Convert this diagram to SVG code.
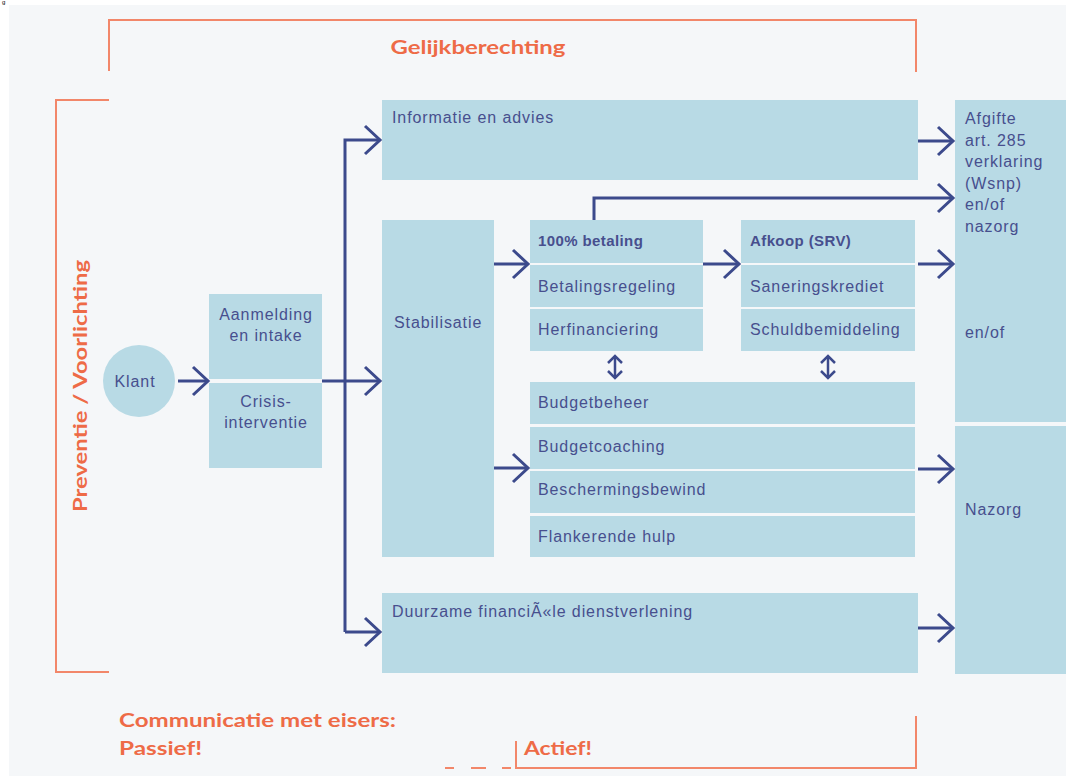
<svg xmlns="http://www.w3.org/2000/svg" width="1066" height="776" viewBox="0 0 1066 776">
<defs>
<style>
.bg{fill:#f5f7f9}
.box{fill:#b8dae5}
.t{font-family:"Liberation Sans",Arial,sans-serif;font-size:16px;fill:#474f8e;letter-spacing:0.9px}
.tb{font-family:"Liberation Sans",Arial,sans-serif;font-size:15px;font-weight:bold;fill:#474f8e;letter-spacing:0.4px}
.o{font-family:Lato,"Liberation Sans",sans-serif;font-weight:bold;font-size:19px;fill:#ee6b47}
.br{fill:none;stroke:#f2876a;stroke-width:2}
.c{fill:none;stroke:#3c4a8c;stroke-width:3}
.c2{fill:none;stroke:#3c4a8c;stroke-width:2.5}
</style>
<marker id="ah" markerUnits="userSpaceOnUse" viewBox="0 0 20 32" markerWidth="20" markerHeight="32" refX="17" refY="16" orient="auto">
<path d="M2,2 L17,16 L2,30" fill="none" stroke="#3c4a8c" stroke-width="3"/>
</marker>
<marker id="ahs" markerUnits="userSpaceOnUse" viewBox="0 0 12 18" markerWidth="12" markerHeight="18" refX="9" refY="9" orient="auto-start-reverse">
<path d="M2,2 L9,9 L2,16" fill="none" stroke="#3c4a8c" stroke-width="2.5"/>
</marker>
</defs>
<rect x="0" y="0" width="1066" height="776" fill="#ffffff"/>
<rect class="bg" x="9" y="5" width="1057" height="771"/>
<text x="2" y="4" font-family="Liberation Sans, sans-serif" font-size="6" fill="#000">g</text>

<g id="brackets">
<path class="br" d="M109,71 V20 H916 V72"/>
<path class="br" d="M109,100 H56 V672 H109"/>
<path class="br" d="M916,716 V768 H516 V741"/>
<path class="br" d="M445,768 H454 M471,768 H486 M502,768 H511"/>
</g>
<g id="labels">
<text class="o" x="478" y="54" text-anchor="middle" textLength="175" lengthAdjust="spacingAndGlyphs">Gelijkberechting</text>
<text class="o" transform="translate(87,386) rotate(-90)" text-anchor="middle" textLength="252" lengthAdjust="spacingAndGlyphs">Preventie / Voorlichting</text>
<text class="o" x="119" y="727" textLength="277" lengthAdjust="spacingAndGlyphs">Communicatie met eisers:</text>
<text class="o" x="119" y="755" textLength="83" lengthAdjust="spacingAndGlyphs">Passief!</text>
<text class="o" x="524" y="755" textLength="68" lengthAdjust="spacingAndGlyphs">Actief!</text>
</g>

<g id="klant">
<circle class="box" cx="139" cy="381" r="36"/>
<text class="t" x="135" y="387" text-anchor="middle">Klant</text>
</g>
<g id="aanmelding">
<rect class="box" x="209" y="294" width="113" height="85"/>
<text class="t" x="266" y="320" text-anchor="middle">Aanmelding</text>
<text class="t" x="266" y="341" text-anchor="middle">en intake</text>
</g>
<g id="crisis">
<rect class="box" x="209" y="383" width="113" height="85"/>
<text class="t" x="266" y="407" text-anchor="middle">Crisis-</text>
<text class="t" x="266" y="428" text-anchor="middle">interventie</text>
</g>
<g id="informatie">
<rect class="box" x="382" y="100" width="536" height="80"/>
<text class="t" x="392" y="123">Informatie en advies</text>
</g>
<g id="stabilisatie">
<rect class="box" x="382" y="220" width="112" height="337"/>
<text class="t" x="394" y="328">Stabilisatie</text>
</g>
<g id="betaling">
<rect class="box" x="530" y="220" width="173" height="43"/>
<text class="tb" x="538" y="246">100% betaling</text>
<rect class="box" x="530" y="265" width="173" height="42"/>
<text class="t" x="538" y="292">Betalingsregeling</text>
<rect class="box" x="530" y="309" width="173" height="42"/>
<text class="t" x="538" y="335">Herfinanciering</text>
</g>
<g id="afkoop">
<rect class="box" x="741" y="220" width="174" height="43"/>
<text class="tb" x="750" y="246">Afkoop (SRV)</text>
<rect class="box" x="741" y="265" width="174" height="42"/>
<text class="t" x="750" y="292">Saneringskrediet</text>
<rect class="box" x="741" y="309" width="174" height="42"/>
<text class="t" x="750" y="335">Schuldbemiddeling</text>
</g>
<g id="budget">
<rect class="box" x="530" y="382" width="385" height="42"/>
<text class="t" x="538" y="408">Budgetbeheer</text>
<rect class="box" x="530" y="427" width="385" height="42"/>
<text class="t" x="538" y="452">Budgetcoaching</text>
<rect class="box" x="530" y="471" width="385" height="42"/>
<text class="t" x="538" y="495">Beschermingsbewind</text>
<rect class="box" x="530" y="516" width="385" height="41"/>
<text class="t" x="538" y="542">Flankerende hulp</text>
</g>
<g id="duurzame">
<rect class="box" x="382" y="593" width="536" height="80"/>
<text class="t" x="392" y="617">Duurzame financiÃ«le dienstverlening</text>
</g>
<g id="afgifte">
<rect class="box" x="955" y="100" width="111" height="322"/>
<text class="t" x="965" y="124">Afgifte</text>
<text class="t" x="965" y="146">art. 285</text>
<text class="t" x="965" y="167">verklaring</text>
<text class="t" x="965" y="189">(Wsnp)</text>
<text class="t" x="965" y="210">en/of</text>
<text class="t" x="965" y="232">nazorg</text>
<text class="t" x="965" y="338">en/of</text>
</g>
<g id="nazorg">
<rect class="box" x="955" y="426" width="111" height="248"/>
<text class="t" x="965" y="515">Nazorg</text>
</g>

<g id="connectors">
<path class="c" d="M178,381 H208" marker-end="url(#ah)"/>
<path class="c" d="M322,381 H380" marker-end="url(#ah)"/>
<path class="c" d="M345,632 V140 H380" marker-end="url(#ah)"/>
<path class="c" d="M345,632 H380" marker-end="url(#ah)"/>
<path class="c" d="M494,264 H528" marker-end="url(#ah)"/>
<path class="c" d="M494,468 H528" marker-end="url(#ah)"/>
<path class="c" d="M703,264 H739" marker-end="url(#ah)"/>
<path class="c" d="M594,220 V198 H953" marker-end="url(#ah)"/>
<path class="c" d="M918,141 H953" marker-end="url(#ah)"/>
<path class="c" d="M918,264 H953" marker-end="url(#ah)"/>
<path class="c" d="M918,469 H953" marker-end="url(#ah)"/>
<path class="c" d="M918,628 H953" marker-end="url(#ah)"/>
<path class="c2" d="M615,356 V378" marker-start="url(#ahs)" marker-end="url(#ahs)"/>
<path class="c2" d="M828,356 V378" marker-start="url(#ahs)" marker-end="url(#ahs)"/>
</g>
</svg>
